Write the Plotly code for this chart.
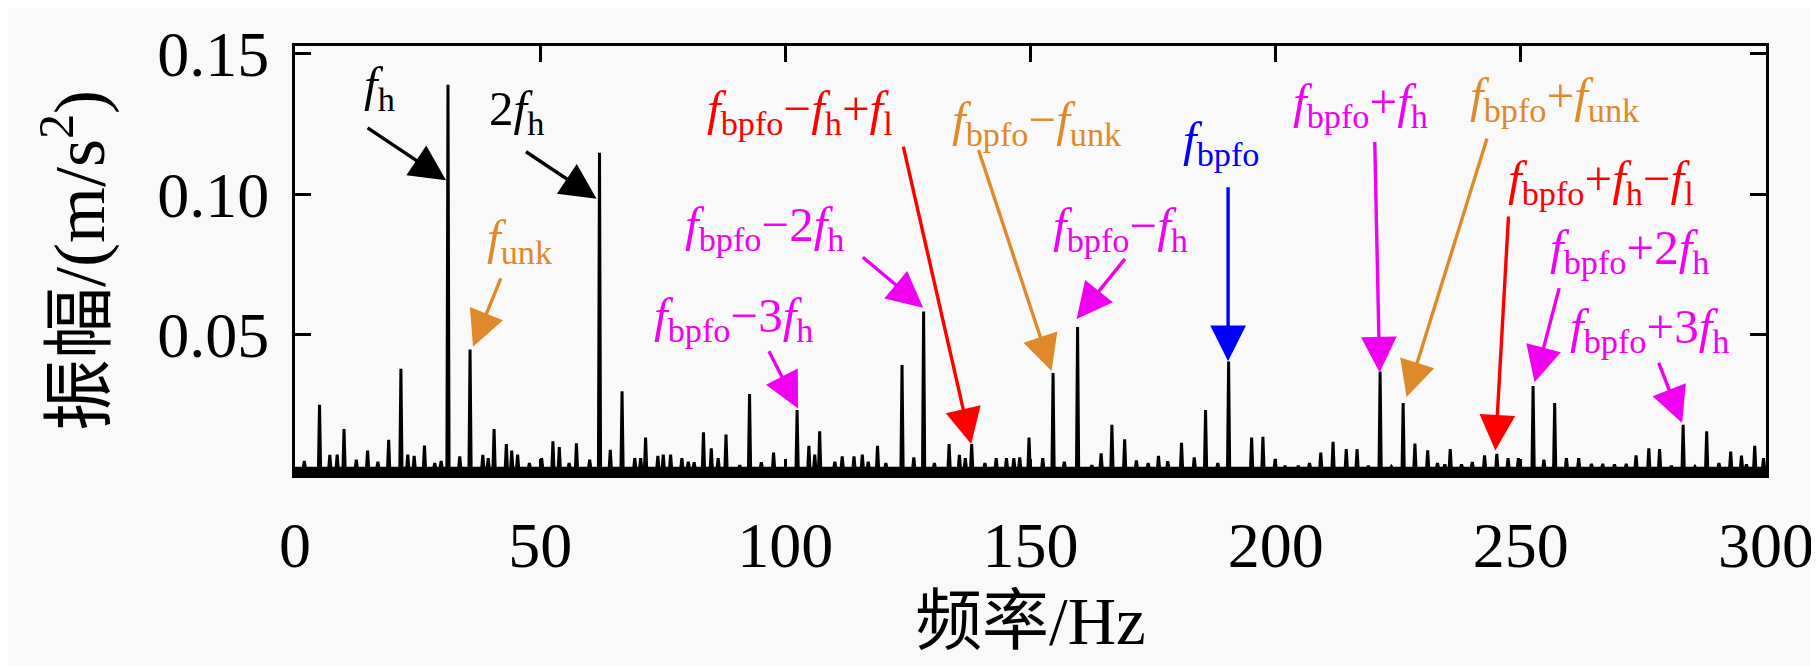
import plotly.graph_objects as go

# main spectral lines (Hz, m/s^2)
peak_freq = [5.0, 10.0, 21.6, 31.2, 35.7, 40.6, 62.1, 66.7, 71.5, 83.3, 87.9, 92.7,
             102.4, 107.0, 123.8, 128.2, 149.7, 154.6, 159.6, 166.6, 169.2, 180.8,
             185.7, 190.4, 195.1, 197.4, 211.7, 221.3, 226.0, 228.4, 252.5, 256.9,
             283.1, 287.9, 297.7]
peak_amp = [0.025, 0.0164, 0.0378, 0.139, 0.0447, 0.0164, 0.1148, 0.0298, 0.0133,
            0.0152, 0.0144, 0.0288, 0.0231, 0.0156, 0.0392, 0.0582, 0.0133, 0.0363,
            0.0527, 0.0179, 0.0127, 0.0115, 0.0231, 0.0404, 0.0133, 0.0136, 0.0118,
            0.0369, 0.0256, 0.0112, 0.0317, 0.0256, 0.0179, 0.0156, 0.0104]

# small lines riding on the noise floor
minor_freq = [1.9, 7.1, 8.6, 12.5, 14.8, 16.9, 19.1, 23.0, 24.3, 26.4, 28.5, 29.8,
              33.6, 38.3, 39.4, 43.1, 44.2, 45.4, 47.8, 50.3, 52.6, 53.9, 55.9, 57.4,
              60.1, 64.3, 69.3, 70.5, 74.0, 75.1, 76.6, 78.9, 80.2, 81.4, 84.9, 86.3,
              90.7, 95.1, 97.6, 104.8, 106.0, 110.1, 111.6, 114.0, 115.7, 116.9, 118.8,
              120.5, 126.2, 130.4, 133.4, 135.5, 136.7, 138.0, 140.7, 143.0, 145.1,
              146.6, 147.8, 152.5, 156.9, 162.5, 164.4, 171.6, 174.0, 176.1, 178.0,
              183.4, 188.2, 199.9, 201.9, 204.6, 206.9, 209.2, 214.4, 216.6, 218.9,
              223.6, 231.0, 233.0, 234.5, 235.6, 237.9, 240.1, 242.6, 245.1, 247.4,
              249.5, 254.7, 259.3, 261.8, 264.4, 266.7, 269.1, 271.5, 273.5, 276.1,
              278.3, 280.7, 285.5, 290.4, 292.8, 295.0, 296.0, 299.5]
minor_amp = [0.005, 0.0072, 0.0073, 0.0055, 0.0087, 0.0047, 0.0125, 0.0073, 0.0068,
             0.0105, 0.0043, 0.005, 0.0066, 0.0072, 0.006, 0.011, 0.0087, 0.0073,
             0.0043, 0.006, 0.012, 0.0099, 0.0043, 0.0113, 0.0055, 0.009, 0.006,
             0.006, 0.0068, 0.0073, 0.0073, 0.006, 0.0047, 0.0045, 0.0095, 0.006,
             0.0035, 0.0045, 0.008, 0.0104, 0.0073, 0.0047, 0.0066, 0.0066, 0.0073,
             0.0047, 0.0104, 0.0043, 0.0063, 0.0043, 0.011, 0.0072, 0.006, 0.011,
             0.0043, 0.006, 0.006, 0.006, 0.0063, 0.006, 0.0047, 0.0035, 0.0077,
             0.0052, 0.0043, 0.0068, 0.0049, 0.0063, 0.0043, 0.0057, 0.0033, 0.0033,
             0.0043, 0.008, 0.0092, 0.0092, 0.0033, 0.003, 0.0088, 0.0043, 0.0038,
             0.0092, 0.0038, 0.0046, 0.007, 0.0075, 0.006, 0.006, 0.0055, 0.006,
             0.006, 0.004, 0.004, 0.0038, 0.004, 0.007, 0.0095, 0.0092, 0.0033,
             0.003, 0.0043, 0.0083, 0.0069, 0.0038, 0.006]

floor_level = 0.0024
half_width = 0.22

lines = sorted(zip(peak_freq + minor_freq, peak_amp + minor_amp))
xs, ys = [0.0], [floor_level]
for f, a in lines:
    xs += [f - half_width, f, f + half_width]
    ys += [floor_level, a, floor_level]
xs.append(300.0)
ys.append(floor_level)

fig = go.Figure()
fig.add_trace(go.Scatter(x=xs, y=ys, mode="lines", fill="tozeroy",
                         fillcolor="black", line=dict(color="black", width=3),
                         hoverinfo="skip", showlegend=False))

F = "<i>f</i>"
ORANGE = "#DE8A2A"
MAG = "#F000F0"
# label, colour, text pos, arrow tail, arrow tip (data units)
labels = [
    (F + "<sub>h</sub>", "black", (17.3, 0.138), (14.5, 0.124), (30.8, 0.105)),
    ("2" + F + "<sub>h</sub>", "black", (45.1, 0.1295), (46.8, 0.1155), (61.5, 0.0984)),
    (F + "<sub>unk</sub>", ORANGE, (45.9, 0.0836), (42.1, 0.0706), (36.3, 0.0457)),
    (F + "<sub>bpfo</sub>−" + F + "<sub>h</sub>+" + F + "<sub>l</sub>", "red",
     (103.0, 0.1295), (124.0, 0.1175), (137.9, 0.011)),
    (F + "<sub>bpfo</sub>−2" + F + "<sub>h</sub>", MAG, (95.7, 0.088), (115.5, 0.078), (128.1, 0.0596)),
    (F + "<sub>bpfo</sub>−3" + F + "<sub>h</sub>", MAG, (89.5, 0.0559), (96.5, 0.0446), (102.6, 0.0237)),
    (F + "<sub>bpfo</sub>−" + F + "<sub>unk</sub>", ORANGE, (151.3, 0.1257), (139.3, 0.1163), (154.3, 0.037)),
    (F + "<sub>bpfo</sub>−" + F + "<sub>h</sub>", MAG, (168.3, 0.0878), (169.5, 0.0775), (159.4, 0.0556)),
    (F + "<sub>bpfo</sub>", "blue", (188.9, 0.1185), (190.3, 0.103), (190.3, 0.0405)),
    (F + "<sub>bpfo</sub>+" + F + "<sub>h</sub>", MAG, (217.2, 0.132), (220.2, 0.1192), (221.2, 0.0365)),
    (F + "<sub>bpfo</sub>+" + F + "<sub>unk</sub>", ORANGE, (257.0, 0.134), (243.2, 0.1204), (226.7, 0.0278)),
    (F + "<sub>bpfo</sub>+" + F + "<sub>h</sub>−" + F + "<sub>l</sub>", "red",
     (266.4, 0.1045), (247.5, 0.0926), (244.8, 0.0087)),
    (F + "<sub>bpfo</sub>+2" + F + "<sub>h</sub>", MAG, (272.1, 0.0798), (257.9, 0.0671), (252.8, 0.033)),
    (F + "<sub>bpfo</sub>+3" + F + "<sub>h</sub>", MAG, (276.2, 0.052), (278.0, 0.0405), (282.9, 0.0185)),
]

FONT = "Liberation Serif, Times New Roman, Noto Sans CJK SC"
for text, color, tpos, tail, tip in labels:
    fig.add_annotation(x=tip[0], y=tip[1], ax=tail[0], ay=tail[1], axref="x", ayref="y",
                       text="", showarrow=True, arrowhead=2, arrowsize=2.1,
                       arrowwidth=3.4, arrowcolor=color)
    fig.add_annotation(x=tpos[0], y=tpos[1], text=text, showarrow=False,
                       font=dict(family=FONT, size=49, color=color))

axis_common = dict(showline=True, linewidth=3, linecolor="black", mirror="ticks",
                   ticks="inside", ticklen=16, tickwidth=3, tickcolor="black",
                   showgrid=False, zeroline=False, ticklabeloverflow="allow",
                   tickfont=dict(family=FONT, size=64, color="black"))

fig.update_xaxes(range=[0, 300], tickvals=[0, 50, 100, 150, 200, 250, 300],
                 ticklabelstandoff=12,
                 title=dict(text="频率/Hz", font=dict(family=FONT, size=67, color="black"),
                            standoff=18),
                 **axis_common)
fig.update_yaxes(range=[0, 0.1528], tickvals=[0.05, 0.10, 0.15], tickformat=".2f",
                 ticklabelstandoff=10,
                 title=dict(text="振幅/(m/s<sup>2</sup>)",
                            font=dict(family=FONT, size=72, color="black"), standoff=30),
                 **axis_common)

fig.update_layout(width=1819, height=666, paper_bgcolor="#f9f9f9", plot_bgcolor="#f9f9f9",
                  margin=dict(l=287, r=61, t=23, b=199), showlegend=False)

fig.write_html("out.html")
